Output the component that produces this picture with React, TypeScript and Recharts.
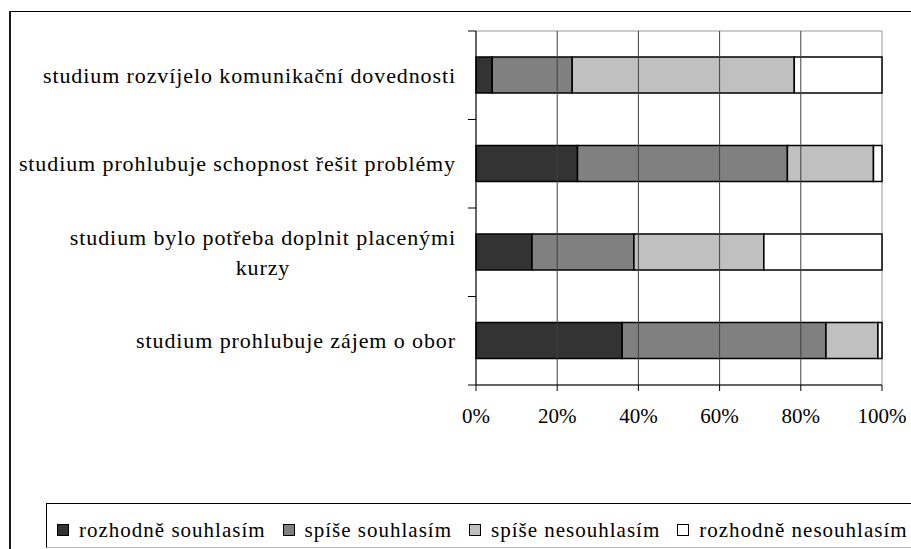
import React from 'react';
import { BarChart, Bar, XAxis, YAxis, ReferenceLine, ReferenceArea } from 'recharts';

// kategorie (shora dolů) – "\n" = zalomení řádku jako v originále
const categories = [
  'studium rozvíjelo komunikační dovednosti',
  'studium prohlubuje schopnost řešit problémy',
  'studium bylo potřeba doplnit placenými\nkurzy',
  'studium prohlubuje zájem o obor',
];

// podíly odpovědí v %
const rozhodneSouhlasim = [4, 25, 13.8, 36];
const spiseSouhlasim = [19.7, 51.7, 25.1, 50.2];
const spiseNesouhlasim = [54.7, 21.2, 32, 12.8];
const rozhodneNesouhlasim = [21.6, 2.1, 29.1, 1];

const xTicks = [0, 20, 40, 60, 80, 100];
const gridValues = [20, 40, 60, 80];

const series = [
  { key: 'rs', name: 'rozhodně souhlasím', values: rozhodneSouhlasim, color: '#333333' },
  { key: 'ss', name: 'spíše souhlasím', values: spiseSouhlasim, color: '#808080' },
  { key: 'sn', name: 'spíše nesouhlasím', values: spiseNesouhlasim, color: '#c0c0c0' },
  { key: 'rn', name: 'rozhodně nesouhlasím', values: rozhodneNesouhlasim, color: '#ffffff' },
];

const data = categories.map((name, i) => {
  const row: Record<string, string | number> = { name };
  series.forEach((s) => (row[s.key] = s.values[i]));
  return row;
});

const FONT = '"Liberation Serif", "Times New Roman", serif';
const LABEL_FS = 22;
const LABEL_LS = 0.9;
const TICK_FS = 21;

const W = 911;
const H = 549;
const PLOT_TOP = 31;
const PLOT_BOTTOM = 385;
const PLOT_LEFT = 476;
const BAND = (PLOT_BOTTOM - PLOT_TOP) / categories.length;

let measureCtx: CanvasRenderingContext2D | null = null;
const textWidth = (t: string) => {
  if (!measureCtx) measureCtx = document.createElement('canvas').getContext('2d');
  if (!measureCtx) return t.length * LABEL_FS * 0.45;
  measureCtx.font = `${LABEL_FS}px ${FONT}`;
  return measureCtx.measureText(t).width + t.length * LABEL_LS;
};

// popisek osy Y: čárky mezi kategoriemi, víceřádkový text zarovnaný na střed
const YTick = (props: any) => {
  const { y, payload, index } = props;
  const lines: string[] = String(payload.value).split('\n');
  const right = PLOT_LEFT - 20;
  const lineH = 30;
  const maxW = Math.max(...lines.map(textWidth));
  const multi = lines.length > 1;
  const tx = multi ? right - maxW / 2 : right;
  const startY = y - ((lines.length - 1) * lineH) / 2;
  return (
    <g>
      <line x1={PLOT_LEFT - 8} x2={PLOT_LEFT} y1={y - BAND / 2} y2={y - BAND / 2} stroke="#000" />
      {index === categories.length - 1 && (
        <line x1={PLOT_LEFT - 8} x2={PLOT_LEFT} y1={y + BAND / 2} y2={y + BAND / 2} stroke="#000" />
      )}
      <text
        x={tx}
        y={startY}
        textAnchor={multi ? 'middle' : 'end'}
        style={{ fontFamily: FONT, fontSize: LABEL_FS, letterSpacing: LABEL_LS }}
        fill="#000"
      >
        {lines.map((l, i) => (
          <tspan key={i} x={tx} y={startY + i * lineH} dy="0.35em">
            {l}
          </tspan>
        ))}
      </text>
    </g>
  );
};

const App: React.FC = () => {
  return (
    <div
      style={{
        position: 'absolute',
        left: 0,
        top: 0,
        width: W,
        height: H,
        overflow: 'hidden',
        background: '#fff',
        fontFamily: FONT,
      }}
    >
      {/* rámeček grafu */}
      <div
        style={{
          position: 'absolute',
          left: 9,
          top: 11,
          width: 1000,
          height: 1000,
          borderTop: '1px solid #000',
          borderLeft: '2px solid #1a1a1a',
        }}
      />
      <div style={{ position: 'absolute', left: 0, top: 0 }}>
        <BarChart
          width={W}
          height={H}
          data={data}
          layout="vertical"
          margin={{ top: PLOT_TOP, right: W - 882, bottom: H - PLOT_BOTTOM - 40, left: 10 }}
        >
          <ReferenceArea x1={0} x2={100} fill="none" stroke="#999" strokeWidth={1} />
          {gridValues.map((v) => (
            <ReferenceLine key={v} x={v} stroke="#404040" strokeWidth={1} />
          ))}
          <XAxis
            type="number"
            domain={[0, 100]}
            ticks={xTicks}
            tickFormatter={(v) => `${v}%`}
            height={40}
            tickSize={6}
            tickMargin={17}
            tick={{ fill: '#000', fontSize: TICK_FS, style: { fontFamily: FONT } }}
            tickLine={{ stroke: '#000' }}
            axisLine={{ stroke: '#000' }}
            interval={0}
          />
          <YAxis
            type="category"
            dataKey="name"
            width={PLOT_LEFT - 10}
            tickLine={false}
            axisLine={{ stroke: '#000' }}
            tick={<YTick />}
            interval={0}
          />
          {series.map((s) => (
            <Bar
              key={s.key}
              dataKey={s.key}
              name={s.name}
              stackId="a"
              fill={s.color}
              stroke="#000"
              strokeWidth={1.5}
              barSize={36}
              isAnimationActive={false}
            />
          ))}
        </BarChart>
      </div>
      {/* legenda */}
      <div
        style={{
          position: 'absolute',
          left: 46,
          top: 503,
          width: 900,
          height: 45,
          borderTop: '1px solid #000',
          borderLeft: '1px solid #000',
          borderBottom: '1px solid #bbb',
          boxSizing: 'border-box',
          paddingLeft: 10,
          paddingTop: 8,
          fontSize: 21,
          lineHeight: '24px',
          letterSpacing: 1,
          color: '#000',
          whiteSpace: 'nowrap',
          display: 'flex',
        }}
      >
        {series.map((s) => (
          <div key={s.key} style={{ display: 'flex', alignItems: 'center', marginRight: 17 }}>
            <span
              style={{
                display: 'inline-block',
                boxSizing: 'border-box',
                width: 12,
                height: 12,
                background: s.color,
                border: '1px solid #000',
                marginRight: 10,
              }}
            />
            <span>{s.name}</span>
          </div>
        ))}
      </div>
    </div>
  );
};

export default App;
